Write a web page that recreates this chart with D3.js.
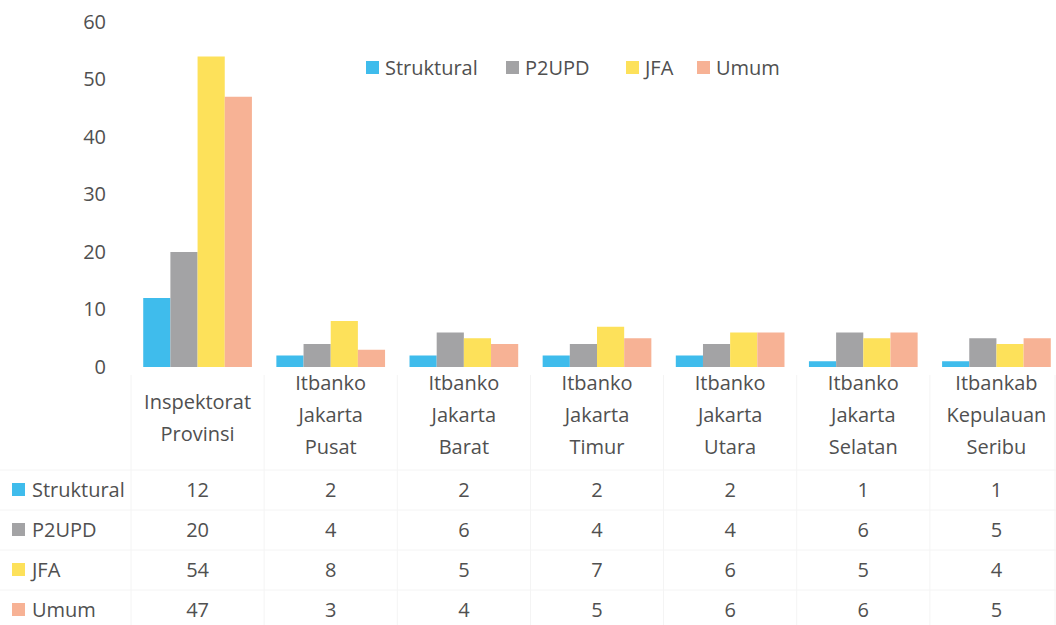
<!DOCTYPE html>
<html>
<head>
<meta charset="utf-8">
<script src="https://cdn.jsdelivr.net/npm/d3@7"></script>
<style>
  body { margin: 0; background: #fff; }
  svg text { font-family: "Open Sans", "Noto Sans", sans-serif; fill: #505050; }
</style>
</head>
<body>
<div id="viz"></div>
<script>
var categories = [
  ["Inspektorat", "Provinsi"],
  ["Itbanko", "Jakarta", "Pusat"],
  ["Itbanko", "Jakarta", "Barat"],
  ["Itbanko", "Jakarta", "Timur"],
  ["Itbanko", "Jakarta", "Utara"],
  ["Itbanko", "Jakarta", "Selatan"],
  ["Itbankab", "Kepulauan", "Seribu"]
];
var seriesNames = ["Struktural", "P2UPD", "JFA", "Umum"];
var struktural = [12, 2, 2, 2, 2, 1, 1];
var p2upd = [20, 4, 6, 4, 4, 6, 5];
var jfa = [54, 8, 5, 7, 6, 5, 4];
var umum = [47, 3, 4, 5, 6, 6, 5];
var yTicks = [0, 10, 20, 30, 40, 50, 60];
var colors = ["#3fbcec", "#a3a3a5", "#fde15a", "#f7b295"];

var series = [struktural, p2upd, jfa, umum];
var width = 1056, height = 625;

var svg = d3.select('#viz').append('svg')
  .attr('width', width)
  .attr('height', height);

var xScale = d3.scaleBand()
  .domain(d3.range(categories.length))
  .range([131, 1063])
  .paddingInner(0)
  .paddingOuter(0);

var xInner = d3.scaleBand()
  .domain(seriesNames)
  .range([0, xScale.bandwidth()])
  .paddingInner(0)
  .paddingOuter(0.45);

var yScale = d3.scaleLinear()
  .domain([0, 60])
  .range([367, 22]);

// y axis (labels only)
var yAxis = svg.append('g')
  .attr('transform', 'translate(106,0)')
  .call(d3.axisLeft(yScale).tickValues(yTicks).tickSize(0).tickPadding(0));
yAxis.select('.domain').remove();
yAxis.selectAll('text')
  .style('font-size', '20px')
  .attr('fill', '#505050');

// bars
seriesNames.forEach(function(name, s) {
  svg.append('g').selectAll('rect')
    .data(series[s])
    .enter().append('rect')
      .attr('x', function(d, i) { return xScale(i) + xInner(name); })
      .attr('width', xInner.bandwidth())
      .attr('y', function(d) { return yScale(d); })
      .attr('height', function(d) { return yScale(0) - yScale(d); })
      .attr('fill', colors[s]);
});

// category labels
categories.forEach(function(lines, i) {
  var cx = xScale(i) + xScale.bandwidth() / 2;
  var startY = lines.length === 2 ? 409 : 390;
  lines.forEach(function(t, k) {
    svg.append('text')
      .attr('x', cx)
      .attr('y', startY + k * 32)
      .attr('text-anchor', 'middle')
      .style('font-size', '20px')
      .text(t);
  });
});

// legend
var legendX = [366, 506, 626, 697];
seriesNames.forEach(function(name, s) {
  svg.append('rect')
    .attr('x', legendX[s])
    .attr('y', 61)
    .attr('width', 13)
    .attr('height', 13)
    .attr('fill', colors[s]);
  svg.append('text')
    .attr('x', legendX[s] + 19)
    .attr('y', 75)
    .style('font-size', '20px')
    .text(name);
});

// data table
var rowY = [470, 510, 550, 590];
var rowH = 40;
var grid = svg.append('g').attr('stroke', '#f4f4f4').attr('stroke-width', 1);
rowY.forEach(function(y) {
  grid.append('line').attr('x1', 0).attr('x2', width).attr('y1', y).attr('y2', y);
});
d3.range(categories.length + 1).forEach(function(i) {
  var x = i < categories.length ? xScale(i) : width - 1;
  grid.append('line').attr('x1', x).attr('x2', x).attr('y1', 375).attr('y2', height);
});

seriesNames.forEach(function(name, s) {
  var cy = rowY[s] + rowH / 2;
  svg.append('rect')
    .attr('x', 12)
    .attr('y', cy - 7)
    .attr('width', 13)
    .attr('height', 13)
    .attr('fill', colors[s]);
  svg.append('text')
    .attr('x', 32)
    .attr('y', cy + 7)
    .style('font-size', '20px')
    .text(name);
  series[s].forEach(function(v, i) {
    svg.append('text')
      .attr('x', xScale(i) + xScale.bandwidth() / 2)
      .attr('y', cy + 7)
      .attr('text-anchor', 'middle')
      .style('font-size', '20px')
      .text(v);
  });
});
</script>
</body>
</html>
